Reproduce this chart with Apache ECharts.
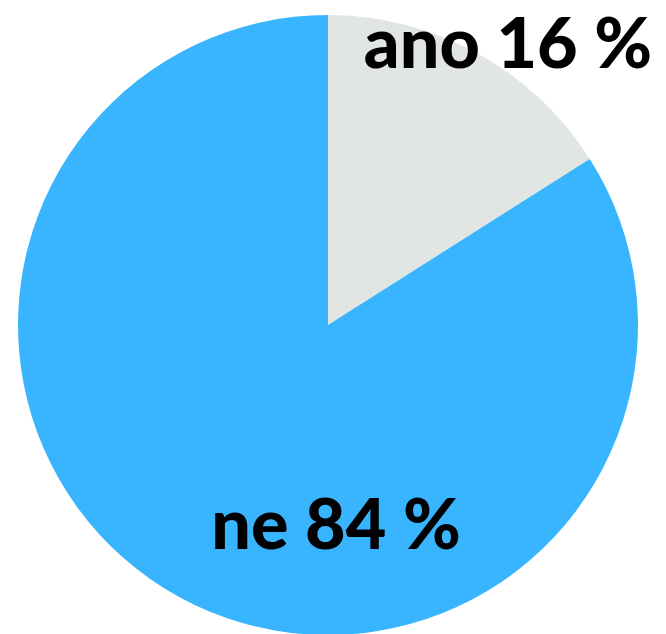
<!DOCTYPE html>
<html>
<head>
<meta charset="utf-8">
<script src="https://cdn.jsdelivr.net/npm/echarts@6/dist/echarts.min.js"></script>
<style>
  html, body { margin: 0; padding: 0; background: #fff; }
  #chart { width: 666px; height: 634px; }
</style>
</head>
<body>
<div id="chart"></div>
<script>
  var names = ['ano', 'ne'];
  var values = [16, 84];
  var colors = ['#e1e6e3', '#39b5ff'];

  var chart = echarts.init(document.getElementById('chart'), null, { renderer: 'svg' });

  var pieData = names.map(function(n, i) {
    return { name: n, value: values[i], itemStyle: { color: colors[i] } };
  });

  // label anchor spots (pixels), first = ano, second = ne
  var labelSpots = [[508, 41], [336, 522]];

  chart.setOption({
    animation: false,
    series: [{
      type: 'pie',
      center: [328, 325],
      radius: [0, 310],
      startAngle: 90,
      clockwise: true,
      data: pieData,
      label: {
        show: true,
        position: 'inside',
        formatter: '{b} {c} %',
        color: '#000',
        fontFamily: 'Lato',
        fontWeight: 900,
        fontSize: 70,
        overflow: 'none',
        align: 'center',
        verticalAlign: 'middle'
      },
      labelLine: { show: false },
      labelLayout: function(params) {
        var p = labelSpots[params.dataIndex];
        return { x: p[0], y: p[1], align: 'center', verticalAlign: 'middle' };
      },
      emphasis: { disabled: true }
    }]
  });
</script>
</body>
</html>
